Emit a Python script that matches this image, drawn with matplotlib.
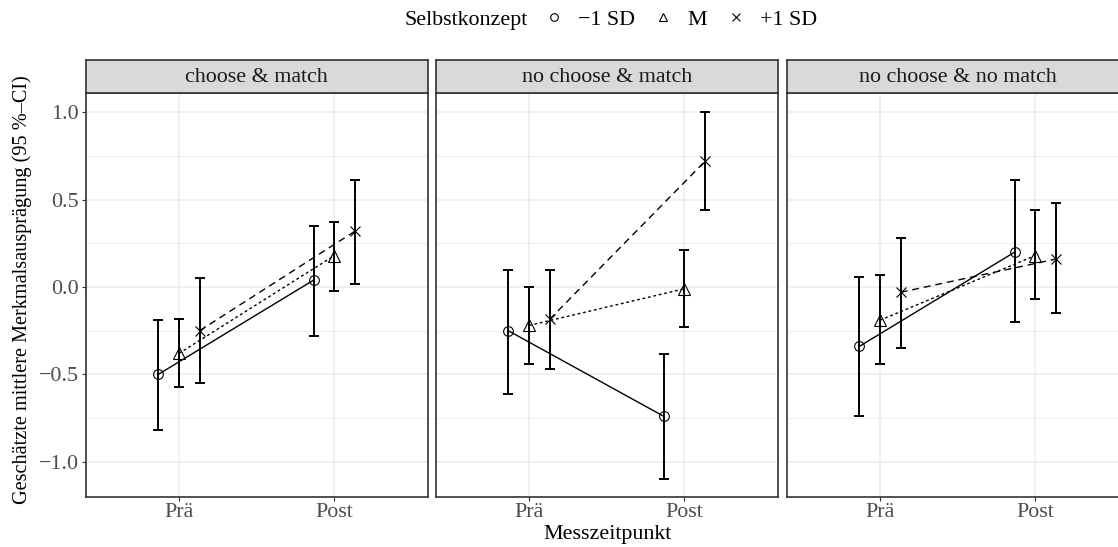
import matplotlib
matplotlib.use("Agg")
import matplotlib.pyplot as plt
from matplotlib.lines import Line2D

# ---- data -------------------------------------------------------------
panels = ["choose & match", "no choose & match", "no choose & no match"]
times = ["Prä", "Post"]
groups = ["\u22121 SD", "M", "+1 SD"]

# estimates per panel: (Prä, Post)
est_minus = [[-0.50, 0.04], [-0.25, -0.74], [-0.34, 0.20]]
lo_minus = [[-0.82, -0.28], [-0.61, -1.10], [-0.74, -0.20]]
hi_minus = [[-0.19, 0.35], [0.10, -0.385], [0.06, 0.61]]

est_mean = [[-0.38, 0.18], [-0.22, -0.01], [-0.19, 0.18]]
lo_mean = [[-0.57, -0.02], [-0.44, -0.23], [-0.44, -0.07]]
hi_mean = [[-0.185, 0.37], [0.00, 0.21], [0.07, 0.44]]

est_plus = [[-0.25, 0.32], [-0.185, 0.72], [-0.03, 0.16]]
lo_plus = [[-0.55, 0.02], [-0.47, 0.44], [-0.35, -0.15]]
hi_plus = [[0.05, 0.615], [0.10, 1.00], [0.28, 0.48]]

ytick_vals = [-1.0, -0.5, 0.0, 0.5, 1.0]
yminor_vals = [-0.75, -0.25, 0.25, 0.75]

# ---- styling ----------------------------------------------------------
plt.rcParams["font.family"] = ["Liberation Serif", "DejaVu Serif"]
plt.rcParams["font.size"] = 15.8
plt.rcParams["lines.scale_dashes"] = False

series = [
    (est_minus, lo_minus, hi_minus, "o", "solid", 7.0),
    (est_mean, lo_mean, hi_mean, "^", (0, (2.0, 2.0)), 8.0),
    (est_plus, lo_plus, hi_plus, "x", (0, (5.0, 3.5)), 7.0),
]
dodge = [-0.133, 0.0, 0.133]

W, H = 1118, 547
fig = plt.figure(figsize=(W / 100, H / 100), dpi=100)

panel_lefts = [85.7, 435.7, 786.7]
panel_w = 342.0
panel_top, panel_bot = 92.7, 496.7
strip_top = 60.3
border = "#333333"
grid_col = "#EBEBEB"
tick_text = "#4D4D4D"

for p, title in enumerate(panels):
    left = panel_lefts[p] / W
    bottom = 1 - panel_bot / H
    height = (panel_bot - panel_top) / H
    ax = fig.add_axes([left, bottom, panel_w / W, height])
    ax.set_xlim(0.4, 2.6)
    ax.set_ylim(-1.2, 1.112)
    ax.set_axisbelow(True)
    for v in ytick_vals:
        ax.axhline(v, color=grid_col, lw=1.1, zorder=0)
    for v in yminor_vals:
        ax.axhline(v, color=grid_col, lw=0.6, zorder=0)
    for i in range(len(times)):
        ax.axvline(i + 1, color=grid_col, lw=1.1, zorder=0)

    for g, (est, lo, hi, mk, ls, ms) in enumerate(series):
        xs = [i + 1 + dodge[g] for i in range(len(times))]
        ys = est[p]
        ax.plot(xs, ys, color="black", lw=1.0, linestyle=ls, zorder=2)
        for x, l, h in zip(xs, lo[p], hi[p]):
            ax.plot([x, x], [l, h], color="black", lw=1.4, zorder=3,
                    solid_capstyle="butt")
            for yy in (l, h):
                ax.plot([x - 0.032, x + 0.032], [yy, yy], color="black",
                        lw=1.4, zorder=3, solid_capstyle="butt")
        ax.plot(xs, ys, linestyle="none", marker=mk, ms=ms, mfc="none",
                mec="black", mew=0.8, zorder=4)

    ax.set_xticks([i + 1 for i in range(len(times))])
    ax.set_xticklabels(times, color=tick_text)
    ax.tick_params(axis="x", length=3.2, width=0.8, color=border, pad=1.5)
    if p == 0:
        ax.set_yticks(ytick_vals)
        ax.set_yticklabels([f"{v:.1f}".replace("-", "\u2212") for v in ytick_vals],
                           color=tick_text)
        ax.tick_params(axis="y", length=3.2, width=0.8, color=border, pad=1.5)
    else:
        ax.set_yticks([])
    for s in ax.spines.values():
        s.set_color(border)
        s.set_linewidth(1.2)
        s.set_zorder(5)

    # facet strip
    sax = fig.add_axes([left, 1 - panel_top / H, panel_w / W, (panel_top - strip_top) / H])
    sax.set_facecolor("#D9D9D9")
    sax.set_xticks([])
    sax.set_yticks([])
    for s in sax.spines.values():
        s.set_color(border)
        s.set_linewidth(1.2)
    sax.text(0.5, 0.48, title, transform=sax.transAxes, ha="center", va="center",
             color="#1A1A1A")

# axis titles
fig.text(22 / W, 1 - 290 / H, "Geschätzte mittlere Merkmalsausprägung (95 %\u2013CI)",
         rotation=90, ha="center", va="center", fontsize=14.6)
fig.text(607 / W, 1 - 534 / H, "Messzeitpunkt", ha="center", va="center")

# legend
handles = [
    Line2D([], [], marker="o", ls="none", mfc="none", mec="black", mew=0.8, ms=5.5),
    Line2D([], [], marker="^", ls="none", mfc="none", mec="black", mew=0.8, ms=6.0),
    Line2D([], [], marker="x", ls="none", color="black", mew=0.8, ms=5.5),
]
fig.text(528 / W, 1 - 20 / H, "Selbstkonzept", ha="right", va="center")
fig.legend(handles, groups, loc="center left", bbox_to_anchor=(545 / W, 1 - 20 / H),
           ncol=3, frameon=False, handlelength=0.8, handletextpad=0.7,
           columnspacing=0.9, borderpad=0, borderaxespad=0)

fig.savefig("out.png", dpi=100)
